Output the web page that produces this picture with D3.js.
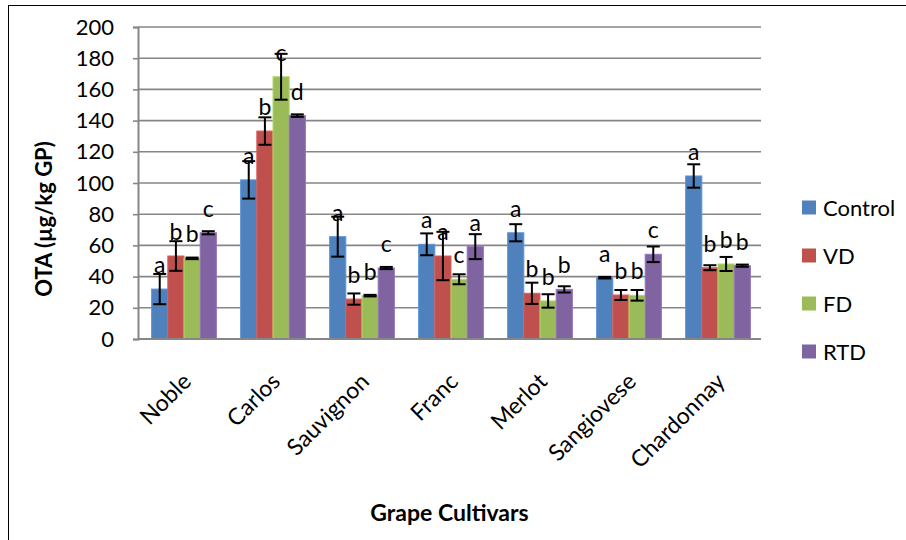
<!DOCTYPE html>
<html>
<head>
<meta charset="utf-8">
<script src="https://cdn.jsdelivr.net/npm/d3@7/dist/d3.min.js"></script>
<style>
  html, body { margin: 0; padding: 0; background: #fff; }
  svg { display: block; font-family: Lato, "Open Sans", sans-serif; }
</style>
</head>
<body>
<svg id="chart" width="906" height="540"></svg>
<script>
const categories = ["Noble", "Carlos", "Sauvignon", "Franc", "Merlot", "Sangiovese", "Chardonnay"];
const seriesNames = ["Control", "VD", "FD", "RTD"];
const controlVals = [32, 102, 65.6, 60.7, 68.1, 39.3, 104.5];
const vdVals      = [53.2, 133.3, 25.6, 53.2, 29.3, 28.2, 45.7];
const fdVals      = [51.7, 168.1, 27.8, 38.3, 24.4, 28, 48.1];
const rtdVals     = [68.1, 143.2, 45.5, 59.2, 31.8, 54.3, 47];
const controlErr  = [9.7, 12, 12.8, 7, 5.5, 0.5, 7.5];
const vdErr       = [9.5, 8.8, 3.6, 15.5, 6.8, 3.2, 1.6];
const fdErr       = [0.5, 14.7, 0.5, 3.2, 4.3, 3.4, 4.5];
const rtdErr      = [1, 0.8, 0.7, 8, 2, 5, 0.7];
const controlLetters = ["a", "a", "a", "a", "a", "a", "a"];
const vdLetters      = ["b", "b", "b", "a", "b", "b", "b"];
const fdLetters      = ["b", "c", "b", "c", "b", "b", "b"];
const rtdLetters     = ["c", "d", "c", "a", "b", "c", "b"];
const yTicks = [0, 20, 40, 60, 80, 100, 120, 140, 160, 180, 200];
const colors = ["#4F81BD", "#C0504D", "#9BBB59", "#8064A2"];

const seriesVals = [controlVals, vdVals, fdVals, rtdVals];
const seriesErr = [controlErr, vdErr, fdErr, rtdErr];
const seriesLetters = [controlLetters, vdLetters, fdLetters, rtdLetters];

const rows = [];
categories.forEach((c, i) => {
  seriesNames.forEach((s, j) => {
    rows.push({cat: c, series: s, si: j, value: seriesVals[j][i], err: seriesErr[j][i], letter: seriesLetters[j][i]});
  });
});

const svg = d3.select("#chart");
const plot = {left: 138, right: 761, top: 27, bottom: 339};

// outer border
svg.append("rect").attr("x", 8.5).attr("y", 5.5).attr("width", 920).attr("height", 560)
  .attr("fill", "none").attr("stroke", "#000").attr("stroke-width", 1);

const x0 = d3.scaleBand().domain(categories).range([plot.left, plot.right]).padding(0);
const bw = x0.bandwidth() / 5.5;
const x1 = d3.scaleBand().domain(seriesNames).range([0, 4 * bw]).padding(0);
const y = d3.scaleLinear().domain([0, 200]).range([plot.bottom, plot.top]);
const color = d3.scaleOrdinal().domain(seriesNames).range(colors);

// gridlines
svg.append("g").selectAll("line").data(yTicks.filter(t => t > 0)).join("line")
  .attr("x1", plot.left).attr("x2", plot.right)
  .attr("y1", d => y(d)).attr("y2", d => y(d))
  .attr("stroke", "#868686").attr("stroke-width", 1.6);

// y axis
const yAxis = d3.axisLeft(y).tickValues(yTicks).tickSize(5).tickPadding(19);
const gy = svg.append("g").attr("transform", `translate(${plot.left},0)`).call(yAxis);
gy.select(".domain").attr("stroke", "#868686").attr("stroke-width", 2);
gy.selectAll(".tick line").attr("stroke", "#868686").attr("stroke-width", 1.6);
gy.selectAll(".tick text").attr("font-size", 22).attr("font-family", "Lato").attr("fill", "#000");

// bars
const groups = svg.append("g").selectAll("g").data(rows).join("g")
  .attr("transform", d => `translate(${x0(d.cat) + 0.75 * bw + 1.5 + x1(d.series)},0)`);

groups.append("rect")
  .attr("x", 0).attr("width", x1.bandwidth())
  .attr("y", d => y(d.value)).attr("height", d => y(0) - y(d.value))
  .attr("fill", d => color(d.series))
  .attr("stroke", d => d3.color(color(d.series)).brighter(0.4)).attr("stroke-width", 1);

// error bars
const cap = 6.5;
groups.append("line")
  .attr("x1", x1.bandwidth() / 2).attr("x2", x1.bandwidth() / 2)
  .attr("y1", d => y(d.value + d.err)).attr("y2", d => y(d.value - d.err))
  .attr("stroke", "#000").attr("stroke-width", 2);
groups.append("line")
  .attr("x1", x1.bandwidth() / 2 - cap).attr("x2", x1.bandwidth() / 2 + cap)
  .attr("y1", d => y(d.value + d.err)).attr("y2", d => y(d.value + d.err))
  .attr("stroke", "#000").attr("stroke-width", 2);
groups.append("line")
  .attr("x1", x1.bandwidth() / 2 - cap).attr("x2", x1.bandwidth() / 2 + cap)
  .attr("y1", d => y(d.value - d.err)).attr("y2", d => y(d.value - d.err))
  .attr("stroke", "#000").attr("stroke-width", 2);

// letters
groups.append("text")
  .attr("x", x1.bandwidth() / 2).attr("y", d => y(d.value) - 16)
  .attr("text-anchor", "middle").attr("font-size", 23).attr("fill", "#000")
  .text(d => d.letter);

// x axis line
svg.append("line").attr("x1", plot.left).attr("x2", plot.right)
  .attr("y1", plot.bottom).attr("y2", plot.bottom)
  .attr("stroke", "#868686").attr("stroke-width", 2);

// category labels
svg.append("g").selectAll("text").data(categories).join("text")
  .attr("transform", d => `translate(${x0(d) + x0.bandwidth() / 2 + 10},${plot.bottom + 44}) rotate(-45)`)
  .attr("text-anchor", "end").attr("font-size", 23).attr("fill", "#000")
  .text(d => d);

// axis titles
svg.append("text").attr("transform", `translate(52,219) rotate(-90)`)
  .attr("text-anchor", "middle").attr("font-size", 22).attr("font-weight", "bold").attr("fill", "#000")
  .text("OTA (µg/kg GP)");
svg.append("text").attr("x", 449.5).attr("y", 521)
  .attr("text-anchor", "middle").attr("font-size", 23).attr("font-weight", "bold").attr("fill", "#000")
  .text("Grape Cultivars");

// legend
const legend = svg.append("g").selectAll("g").data(seriesNames).join("g")
  .attr("transform", (d, i) => `translate(802,${200.5 + i * 48})`);
legend.append("rect").attr("width", 14).attr("height", 14).attr("fill", d => color(d));
legend.append("text").attr("x", 21).attr("y", 15).attr("font-size", 22).attr("fill", "#000").text(d => d);
</script>
</body>
</html>
